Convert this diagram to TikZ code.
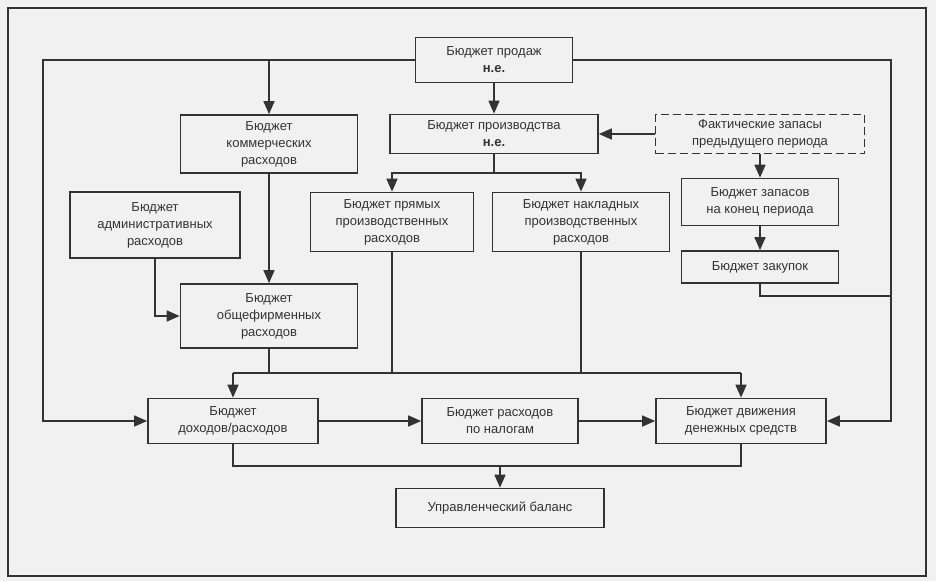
\documentclass[tikz,border=0pt]{standalone}
\usepackage{fontspec}
\setmainfont{Liberation Sans}
\usetikzlibrary{positioning, calc, arrows.meta}
\definecolor{paper}{HTML}{F1F1F1}
\definecolor{ink}{HTML}{333333}
\tikzset{budget/.style={draw=ink, line width=1.7pt, fill=paper, align=center, inner sep=2pt, text=ink, font=\fontsize{13}{17}\selectfont}}
\tikzset{flow/.style={draw=ink, line width=1.6pt, -{Triangle[length=13pt, width=11pt]}}}
\tikzset{link/.style={draw=ink, line width=1.6pt}}

\begin{document}
\begin{tikzpicture}[x=1pt, y=-1pt]
      \fill[paper] (0,0) rectangle (936,581);
      \useasboundingbox (0,0) rectangle (936,581);
      \draw[ink, line width=1.5pt] (8,8) rectangle (926,576);

      \node[budget, minimum width=157pt, minimum height=45pt] (sales) at (494,60) {Бюджет продаж\\\textbf{н.е.}};
      \node[budget, minimum width=177pt, minimum height=58pt] (comm) at (269,144) {Бюджет\\коммерческих\\расходов};
      \node[budget, minimum width=208pt, minimum height=39pt] (prod) at (494,134) {Бюджет производства\\\textbf{н.е.}};
      \node[budget, dashed, dash pattern=on 8pt off 4pt, minimum width=209pt, minimum height=39pt] (stockprev) at (760,134) {Фактические запасы\\предыдущего периода};
      \node[budget, minimum width=170pt, minimum height=66pt] (admin) at (155,225) {Бюджет\\административных\\расходов};
      \node[budget, minimum width=163pt, minimum height=59pt] (direct) at (392,222) {Бюджет прямых\\производственных\\расходов};
      \node[budget, minimum width=177pt, minimum height=59pt] (overhead) at (581,222) {Бюджет накладных\\производственных\\расходов};
      \node[budget, minimum width=157pt, minimum height=47pt] (stockend) at (760,202) {Бюджет запасов\\на конец периода};
      \node[budget, minimum width=157pt, minimum height=32pt] (purch) at (760,267) {Бюджет закупок};
      \node[budget, minimum width=177pt, minimum height=64pt] (general) at (269,316) {Бюджет\\общефирменных\\расходов};
      \node[budget, minimum width=170pt, minimum height=45pt] (income) at (233,421) {Бюджет\\доходов/расходов};
      \node[budget, minimum width=156pt, minimum height=45pt] (tax) at (500,421) {Бюджет расходов\\по налогам};
      \node[budget, minimum width=170pt, minimum height=45pt] (cash) at (741,421) {Бюджет движения\\денежных средств};
      \node[budget, minimum width=208pt, minimum height=39pt] (balance) at (500,508) {Управленческий баланс};

      \coordinate (left) at (43,421);
      \coordinate (right) at (891,421);
      \coordinate (purchjoin) at (891,296);
      \coordinate (prodfork) at (494,173);
      \coordinate (busl) at (233,373);
      \coordinate (busr) at (741,373);
      \coordinate (bottom) at (500,466);

      \draw[flow] (sales.west) -| (left) -- (income.west);
      \draw[flow] (comm.north |- sales.west) -- (comm.north);
      \draw[flow] (sales.east) -| (right) -- (cash.east);
      \draw[flow] (sales) -- (prod);
      \draw[flow] (stockprev) -- (prod);
      \draw[flow] (stockprev) -- (stockend);
      \draw[flow] (stockend) -- (purch);
      \draw[link] (purch.south) |- (purchjoin);
      \draw[link] (prod.south) -- (prodfork);
      \draw[flow] (prodfork) -| (direct.north);
      \draw[flow] (prodfork) -| (overhead.north);
      \draw[flow] (comm) -- (general);
      \draw[flow] (admin.south) |- (general.west);
      \draw[link] (busl) -- (busr);
      \draw[link] (general.south) -- (general.south |- busl);
      \draw[link] (direct.south) -- (direct.south |- busl);
      \draw[link] (overhead.south) -- (overhead.south |- busl);
      \draw[flow] (busl) -- (income.north);
      \draw[flow] (busr) -- (cash.north);
      \draw[flow] (income) -- (tax);
      \draw[flow] (tax) -- (cash);
      \draw[link] (income.south) |- (bottom) -| (cash.south);
      \draw[flow] (bottom) -- (balance);
    \end{tikzpicture}
\end{document}
